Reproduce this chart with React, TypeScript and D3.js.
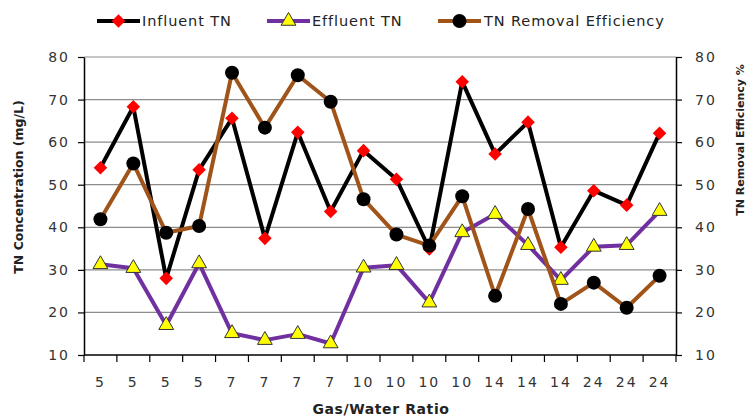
import React, { useEffect, useRef } from 'react';
import * as d3 from 'd3';

const RATIOS = ['5', '5', '5', '5', '7', '7', '7', '7', '10', '10', '10', '10', '14', '14', '14', '24', '24', '24'];
const INFLUENT = [54.0, 68.3, 28.0, 53.5, 65.6, 37.4, 62.3, 43.7, 58.0, 51.3, 34.9, 74.2, 57.2, 64.7, 35.3, 48.6, 45.2, 62.1];
const EFFLUENT = [31.3, 30.4, 17.0, 31.5, 15.1, 13.5, 14.9, 12.7, 30.5, 31.1, 22.3, 38.8, 43.1, 35.8, 27.6, 35.4, 35.8, 43.8];
const REMOVAL = [41.9, 55.0, 38.7, 40.3, 76.3, 63.4, 75.7, 69.5, 46.6, 38.3, 35.7, 47.3, 23.9, 44.3, 22.0, 27.0, 21.1, 28.6];
const TICKS = [10, 20, 30, 40, 50, 60, 70, 80];

const FONT = '"DejaVu Sans", Verdana, sans-serif';

export default function App() {
  const svgRef = useRef<SVGSVGElement>(null);

  useEffect(() => {
    if (!svgRef.current) return;
    const width = 754;
    const height = 418;
    const svg = d3.select(svgRef.current);
    svg.selectAll('*').remove();

    const left = 84, right = 676, top = 57, bottom = 355;

    const x = d3.scaleBand<number>().domain(d3.range(RATIOS.length)).range([left, right]);
    const yL = d3.scaleLinear().domain([10, 80]).range([bottom, top]);
    const yR = d3.scaleLinear().domain([10, 80]).range([bottom, top]);
    const cx = (i: number) => (x(i) as number) + x.bandwidth() / 2;

    // gridlines
    svg.append('g')
      .selectAll('line')
      .data(TICKS.filter(t => t > 10))
      .enter()
      .append('line')
      .attr('x1', left).attr('x2', right)
      .attr('y1', d => yL(d)).attr('y2', d => yL(d))
      .attr('stroke', '#8c8c8c')
      .attr('stroke-width', 1.2);

    // left + right axes
    const gL = svg.append('g').attr('transform', `translate(${left},0)`)
      .call(d3.axisLeft(yL).tickValues(TICKS).tickSize(6).tickPadding(8).tickSizeOuter(0));
    const gR = svg.append('g').attr('transform', `translate(${right},0)`)
      .call(d3.axisRight(yR).tickValues(TICKS).tickSize(6).tickPadding(13).tickSizeOuter(0));
    [gL, gR].forEach(g => {
      g.select('.domain').attr('stroke', '#000').attr('stroke-width', 1.5);
      g.selectAll('.tick line').attr('stroke', '#000').attr('stroke-width', 1.2);
      g.selectAll('.tick text')
        .attr('font-family', FONT).attr('font-size', 14).attr('fill', '#333')
        .attr('letter-spacing', 2);
    });

    // bottom axis
    svg.append('line')
      .attr('x1', left).attr('x2', right)
      .attr('y1', bottom).attr('y2', bottom)
      .attr('stroke', '#000').attr('stroke-width', 1.5);
    const edges = d3.range(RATIOS.length + 1).map(i => i < RATIOS.length ? (x(i) as number) : right);
    svg.append('g')
      .selectAll('line')
      .data(edges)
      .enter()
      .append('line')
      .attr('x1', d => d).attr('x2', d => d)
      .attr('y1', bottom).attr('y2', bottom + 7)
      .attr('stroke', '#000').attr('stroke-width', 1.2);
    svg.append('g')
      .selectAll('text')
      .data(RATIOS)
      .enter()
      .append('text')
      .attr('x', (_, i) => cx(i))
      .attr('y', 387)
      .attr('text-anchor', 'middle')
      .attr('font-family', FONT)
      .attr('font-size', 14)
      .attr('letter-spacing', 2)
      .attr('fill', '#333')
      .text(d => d);

    // axis titles
    svg.append('text')
      .attr('x', 381).attr('y', 414)
      .attr('text-anchor', 'middle')
      .attr('font-family', FONT).attr('font-size', 14).attr('font-weight', 'bold')
      .attr('letter-spacing', 0.6)
      .attr('fill', '#222')
      .text('Gas/Water Ratio');
    svg.append('text')
      .attr('transform', 'translate(23,187) rotate(-90)')
      .attr('text-anchor', 'middle')
      .attr('font-family', FONT).attr('font-size', 12.5).attr('font-weight', 'bold')
      .attr('fill', '#222')
      .text('TN Concentration (mg/L)');
    svg.append('text')
      .attr('transform', 'translate(744,140) rotate(-90)')
      .attr('text-anchor', 'middle')
      .attr('font-family', FONT).attr('font-size', 11).attr('font-weight', 'bold')
      .attr('fill', '#222')
      .text('TN Removal Efficiency %');

    const series = [
      { values: INFLUENT, y: yL, stroke: '#000000', marker: 'diamond' },
      { values: EFFLUENT, y: yL, stroke: '#7030a0', marker: 'triangle' },
      { values: REMOVAL, y: yR, stroke: '#a0541a', marker: 'circle' },
    ];

    const drawMarker = (g: d3.Selection<SVGGElement, unknown, null, undefined>, kind: string, px: number, py: number) => {
      if (kind === 'diamond') {
        g.append('path')
          .attr('d', d3.symbol(d3.symbolSquare, 92)())
          .attr('transform', `translate(${px},${py}) rotate(45)`)
          .attr('fill', '#ff0000');
      } else if (kind === 'triangle') {
        g.append('path')
          .attr('d', d3.symbol(d3.symbolTriangle, 95)())
          .attr('transform', `translate(${px},${py})`)
          .attr('fill', '#ffff00')
          .attr('stroke', '#333')
          .attr('stroke-width', 1);
      } else {
        g.append('circle')
          .attr('cx', px).attr('cy', py).attr('r', 7)
          .attr('fill', '#000');
      }
    };

    series.forEach(s => {
      const line = d3.line<number>().x((_, i) => cx(i)).y(d => s.y(d));
      svg.append('path')
        .datum(s.values)
        .attr('d', line)
        .attr('fill', 'none')
        .attr('stroke', s.stroke)
        .attr('stroke-width', 4)
        .attr('stroke-linejoin', 'round');
      const g = svg.append('g');
      s.values.forEach((v, i) => drawMarker(g, s.marker, cx(i), s.y(v)));
    });

    // legend
    const legend = [
      { label: 'Influent TN', stroke: '#000000', marker: 'diamond', x0: 97, tx: 142 },
      { label: 'Effluent TN', stroke: '#7030a0', marker: 'triangle', x0: 267, tx: 312 },
      { label: 'TN Removal Efficiency', stroke: '#a0541a', marker: 'circle', x0: 438, tx: 484 },
    ];
    const lg = svg.append('g');
    legend.forEach(l => {
      lg.append('line')
        .attr('x1', l.x0).attr('x2', l.x0 + 43)
        .attr('y1', 21).attr('y2', 21)
        .attr('stroke', l.stroke).attr('stroke-width', 4);
      drawMarker(lg, l.marker, l.x0 + 21.5, 21);
      lg.append('text')
        .attr('x', l.tx).attr('y', 26)
        .attr('font-family', FONT).attr('font-size', 14.5)
        .attr('letter-spacing', 0.9)
        .attr('fill', '#222')
        .text(l.label);
    });

    svg.attr('viewBox', `0 0 ${width} ${height}`);
  }, []);

  return (
    <div style={{ position: 'absolute', left: 0, top: 0, width: 754, height: 418, background: '#fff' }}>
      <svg ref={svgRef} width={754} height={418} style={{ display: 'block' }}></svg>
    </div>
  );
}
